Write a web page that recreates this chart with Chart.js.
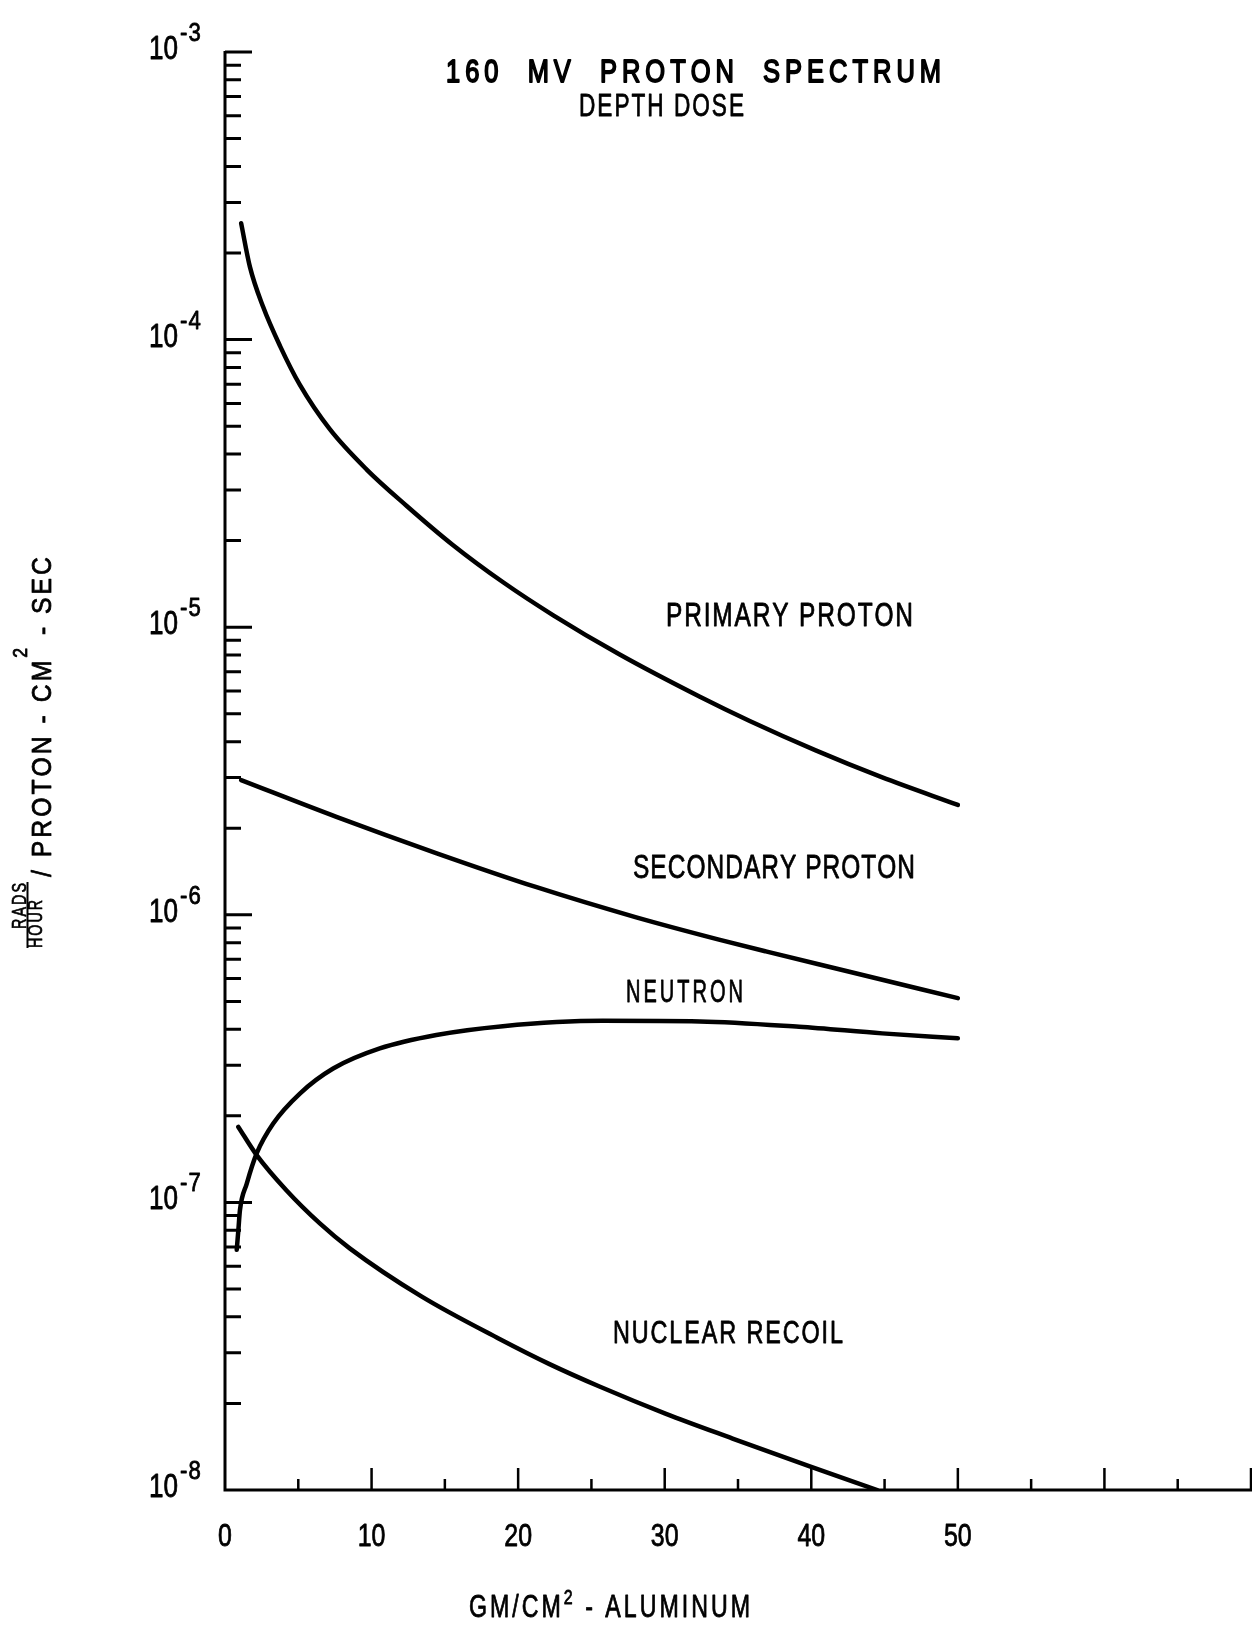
<!DOCTYPE html>
<html>
<head>
<meta charset="utf-8">
<title>160 MV Proton Spectrum - Depth Dose</title>
<script src="https://cdn.jsdelivr.net/npm/chart.js@4/dist/chart.umd.min.js"></script>
<style>
  html, body { margin: 0; padding: 0; background: #fff; }
  #wrap { width: 1252px; height: 1626px; position: relative; }
</style>
</head>
<body>
<div id="wrap"><canvas id="chart"></canvas></div>
<script>
// Depth (g/cm^2 aluminum) and dose rate (rads/hour per proton-cm^2-sec) for each component
const primaryDepth   = [1.1, 1.7, 2.6, 3.75, 5.1, 7.15, 9.65, 12.4, 15.5, 19.0, 22.4, 26.9, 32.4, 35.8, 40.3, 44.8, 50.0];
const primaryDose    = [2.54e-4, 1.79e-4, 1.30e-4, 9.51e-5, 6.97e-5, 4.88e-5, 3.54e-5, 2.64e-5, 1.94e-5, 1.43e-5, 1.10e-5, 8.05e-6, 5.73e-6, 4.72e-6, 3.73e-6, 3.01e-6, 2.41e-6];

const secondaryDepth = [1.1, 7.6, 14.4, 21.2, 28.0, 33.7, 36.9, 42.6, 50.0];
const secondaryDose  = [2.94e-6, 2.19e-6, 1.64e-6, 1.25e-6, 9.82e-7, 8.20e-7, 7.46e-7, 6.34e-7, 5.13e-7];

const neutronDepth   = [0.8, 0.91, 1.02, 1.48, 2.16, 3.29, 5.11, 7.38, 10.56, 14.42, 18.96, 25.77, 32.4, 39.17, 44.84, 50.0];
const neutronDose    = [6.84e-8, 8.0e-8, 9.4e-8, 1.16e-7, 1.48e-7, 1.88e-7, 2.39e-7, 2.92e-7, 3.43e-7, 3.82e-7, 4.10e-7, 4.28e-7, 4.26e-7, 4.08e-7, 3.87e-7, 3.72e-7];

const recoilDepth    = [0.91, 2.16, 4.2, 6.47, 8.51, 13.4, 18.73, 22.14, 25.55, 30.09, 34.63, 39.85, 44.5];
const recoilDose     = [1.83e-7, 1.46e-7, 1.10e-7, 8.45e-8, 6.92e-8, 4.71e-8, 3.35e-8, 2.74e-8, 2.29e-8, 1.84e-8, 1.51e-8, 1.21e-8, 1.0e-8];

// Axis ticks
const xMajorTicks = [10, 20, 30, 40, 50, 60, 70];
const xMinorTicks = [5, 15, 25, 35, 45, 55, 65];
const xTickValues = [0, 10, 20, 30, 40, 50];
const xTickLabels = ['0', '10', '20', '30', '40', '50'];
const yDecadeValues = [1e-8, 1e-7, 1e-6, 1e-5, 1e-4, 1e-3];
const yDecadeExponents = ['-8', '-7', '-6', '-5', '-4', '-3'];
const yMinorMantissas = [2, 3, 4, 5, 6, 7, 8, 9];

const FAMILY = '"Liberation Sans", Arial, "DejaVu Sans", sans-serif';
let capRatioValue = null;
function capRatio(ctx) {
  if (capRatioValue === null) {
    ctx.save();
    ctx.textBaseline = 'alphabetic';
    ctx.textAlign = 'left';
    ctx.font = 'normal 100px ' + FAMILY;
    capRatioValue = ctx.measureText('H').actualBoundingBoxAscent / 100;
    ctx.restore();
  }
  return capRatioValue;
}

// Draws a run of text segments (with optional raised superscripts).
// Glyphs are condensed horizontally (sx) and tracked so the run fills o.width.
function drawRich(ctx, segs, x, y, o) {
  const ratio = capRatio(ctx);
  const glyphs = [];
  for (const s of segs) {
    const cap = s.capH || o.capH;
    const font = 'normal ' + (cap / ratio).toFixed(2) + 'px ' + FAMILY;
    ctx.font = font;
    for (const c of Array.from(s.t)) {
      glyphs.push({ c, font, w0: ctx.measureText(c).width, rise: s.rise || 0 });
    }
  }
  const n = glyphs.length;
  const raw = glyphs.reduce((a, g) => a + g.w0, 0);
  let sx = o.sx || 0.75;
  let gap = o.spacing || 0;
  if (o.width != null && o.gap != null) {
    gap = o.gap;
    sx = (o.width - gap * (n - 1)) / raw;
  } else if (o.width != null && n > 1) {
    gap = (o.width - raw * sx) / (n - 1);
  }
  const total = raw * sx + gap * (n - 1);
  let cx = o.align === 'center' ? x - total / 2 : o.align === 'right' ? x - total : x;
  ctx.fillStyle = '#000';
  ctx.strokeStyle = '#000';
  ctx.textBaseline = 'alphabetic';
  ctx.textAlign = 'left';
  for (const g of glyphs) {
    ctx.save();
    ctx.font = g.font;
    ctx.translate(cx, y - g.rise);
    ctx.scale(sx, 1);
    ctx.fillText(g.c, 0, 0);
    if (o.stroke) {
      ctx.lineWidth = o.stroke;
      ctx.lineJoin = 'round';
      ctx.strokeText(g.c, 0, 0);
    }
    ctx.restore();
    cx += g.w0 * sx + gap;
  }
}

const framePlugin = {
  id: 'frame',
  afterDraw(chart) {
    const ctx = chart.ctx;
    const xs = chart.scales.x, ys = chart.scales.y;
    const area = chart.chartArea;
    const x0 = xs.getPixelForValue(0);
    const yBottom = ys.getPixelForValue(1e-8);
    const yTop = ys.getPixelForValue(1e-3);
    ctx.save();
    ctx.strokeStyle = '#000';
    ctx.lineCap = 'butt';

    // axis lines
    ctx.lineWidth = 3;
    ctx.beginPath();
    ctx.moveTo(x0, yTop - 1);
    ctx.lineTo(x0, yBottom + 1.5);
    ctx.moveTo(x0 - 1.5, yBottom);
    ctx.lineTo(area.right + 1, yBottom);
    ctx.stroke();

    // y ticks, drawn inward
    ctx.lineWidth = 3;
    ctx.beginPath();
    yDecadeValues.forEach((v, i) => {
      const py = ys.getPixelForValue(v);
      if (i > 0) { ctx.moveTo(x0, py); ctx.lineTo(x0 + 27, py); }
      if (v < 1e-3) {
        yMinorMantissas.forEach(m => {
          const pm = ys.getPixelForValue(m * v);
          ctx.moveTo(x0, pm); ctx.lineTo(x0 + 16, pm);
        });
      }
    });
    ctx.stroke();

    // x ticks, drawn upward
    ctx.lineWidth = 2.5;
    ctx.beginPath();
    xMajorTicks.forEach(v => {
      const px = xs.getPixelForValue(v);
      ctx.moveTo(px, yBottom); ctx.lineTo(px, yBottom - 22);
    });
    xMinorTicks.forEach(v => {
      const px = xs.getPixelForValue(v);
      ctx.moveTo(px, yBottom); ctx.lineTo(px, yBottom - 11);
    });
    ctx.stroke();

    const ink = 0.8;

    // x tick labels
    xTickValues.forEach((v, i) => {
      drawRich(ctx, [{ t: xTickLabels[i] }], xs.getPixelForValue(v), yBottom + 56,
        { capH: 21.5, sx: 0.8, align: 'center', stroke: ink });
    });

    // y tick labels: 10 with raised exponent
    yDecadeValues.forEach((v, i) => {
      const py = ys.getPixelForValue(v);
      drawRich(ctx, [{ t: '10' }], x0 - 47, py + 7, { capH: 22.5, sx: 0.8, align: 'right', stroke: ink });
      drawRich(ctx, [{ t: yDecadeExponents[i] }], x0 - 45, py + 7 - 18, { capH: 18, sx: 0.85, spacing: 1, stroke: ink });
    });

    // titles
    drawRich(ctx, [{ t: '160  MV  PROTON  SPECTRUM' }], 446, 82, { capH: 22, width: 495, gap: 5, stroke: 1.8 });
    drawRich(ctx, [{ t: 'DEPTH DOSE' }], 579, 116, { capH: 22, width: 165, gap: 2, stroke: ink });

    // curve labels
    drawRich(ctx, [{ t: 'PRIMARY PROTON' }], 666, 626, { capH: 22.5, width: 247, stroke: ink });
    drawRich(ctx, [{ t: 'SECONDARY PROTON' }], 633, 878, { capH: 22.5, width: 282, stroke: ink });
    drawRich(ctx, [{ t: 'NEUTRON' }], 626, 1001.5, { capH: 21.5, width: 117, gap: 3, stroke: ink });
    drawRich(ctx, [{ t: 'NUCLEAR RECOIL' }], 613, 1343, { capH: 21.5, width: 230, stroke: ink });

    // x axis title
    drawRich(ctx, [{ t: 'GM/CM' }, { t: '2', capH: 14.5, rise: 13 }, { t: ' - ALUMINUM' }], 469, 1617,
      { capH: 21, width: 281, gap: 3, stroke: ink });

    // y axis title, rotated
    ctx.save();
    ctx.translate(51, 877);
    ctx.rotate(-Math.PI / 2);
    drawRich(ctx, [{ t: '/ PROTON - CM' }, { t: '2', capH: 13.5, rise: 24 }, { t: ' - SEC' }], 0, 0,
      { capH: 19, width: 320, gap: 3, stroke: ink });
    ctx.restore();
    ctx.save();
    ctx.translate(26, 906);
    ctx.rotate(-Math.PI / 2);
    drawRich(ctx, [{ t: 'RADS' }], 0, 0, { capH: 13.5, width: 46, gap: 2, align: 'center', stroke: 0.7 });
    ctx.restore();
    ctx.save();
    ctx.translate(41.5, 924);
    ctx.rotate(-Math.PI / 2);
    drawRich(ctx, [{ t: 'HOUR' }], 0, 0, { capH: 13.5, width: 48, gap: 2, align: 'center', stroke: 0.7 });
    ctx.restore();
    ctx.lineWidth = 2;
    ctx.beginPath();
    ctx.moveTo(27.5, 882);
    ctx.lineTo(27.5, 948);
    ctx.stroke();

    ctx.restore();
  }
};

function points(xs, ys) { return xs.map((x, i) => ({ x, y: ys[i] })); }

const lineStyle = {
  borderColor: '#000',
  borderWidth: 4.5,
  pointRadius: 0,
  fill: false,
  cubicInterpolationMode: 'monotone',
  borderCapStyle: 'round',
  borderJoinStyle: 'round'
};

new Chart(document.getElementById('chart'), {
  type: 'line',
  data: {
    datasets: [
      Object.assign({ label: 'Primary proton', data: points(primaryDepth, primaryDose) }, lineStyle),
      Object.assign({ label: 'Secondary proton', data: points(secondaryDepth, secondaryDose) }, lineStyle),
      Object.assign({ label: 'Neutron', data: points(neutronDepth, neutronDose) }, lineStyle),
      Object.assign({ label: 'Nuclear recoil', data: points(recoilDepth, recoilDose) }, lineStyle)
    ]
  },
  options: {
    responsive: true,
    maintainAspectRatio: false,
    animation: false,
    layout: { padding: { left: 225, right: 1, top: 52, bottom: 136 } },
    scales: {
      x: { type: 'linear', min: 0, max: 70, display: false },
      y: { type: 'logarithmic', min: 1e-8, max: 1e-3, display: false }
    },
    plugins: { legend: { display: false }, tooltip: { enabled: false } }
  },
  plugins: [framePlugin]
});
</script>
</body>
</html>
